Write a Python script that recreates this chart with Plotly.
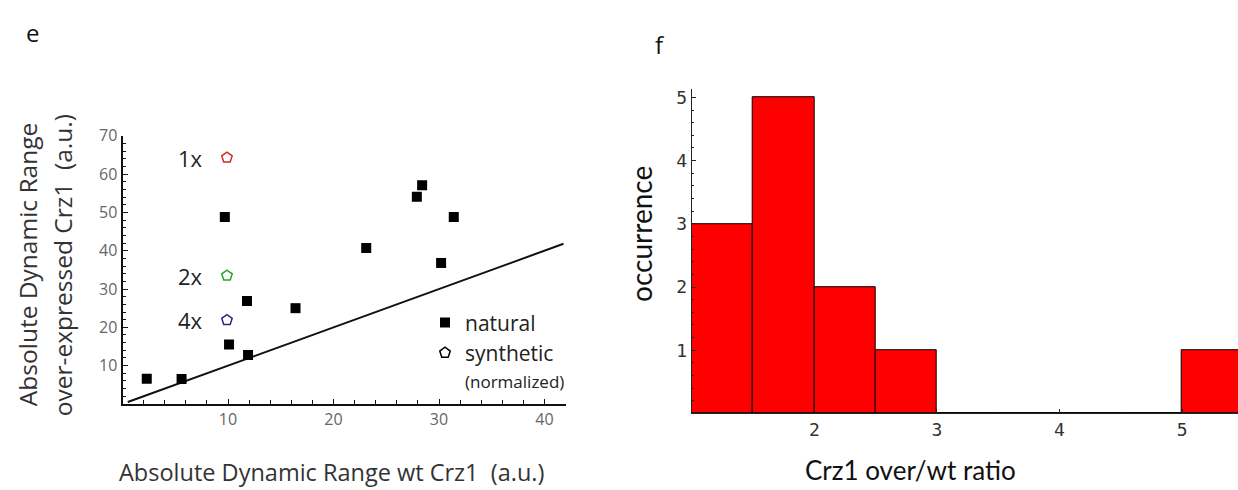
import plotly.graph_objects as go

W, H = 1238, 490

# ---- panel e data ----
nat_x = [2.3, 5.6, 9.7, 11.8, 16.4, 10.1, 11.9, 23.1, 27.9, 28.4, 31.4, 30.2]
nat_y = [6.6, 6.5, 48.8, 26.9, 25.0, 15.5, 12.8, 40.7, 54.1, 57.1, 48.8, 36.8]
syn_labels = ["1x", "2x", "4x"]
syn_x = [9.9, 9.9, 9.9]
syn_y = [64.3, 33.5, 21.9]
syn_colors = ["#d42a2a", "#28a428", "#2a2a88"]
slope_x = [0.5, 41.8]
slope_y = [0.5, 41.8]

# ---- panel f data ----
bin_left = [1.0, 1.5, 2.0, 2.5, 3.0, 3.5, 4.0, 4.5, 5.0]
counts = [3, 5, 2, 1, 0, 0, 0, 0, 1]
bin_width = 0.5

fig = go.Figure()

fig.add_trace(go.Scatter(x=slope_x, y=slope_y, mode="lines",
                         line=dict(color="#111", width=2), showlegend=False,
                         xaxis="x", yaxis="y"))
fig.add_trace(go.Scatter(x=nat_x, y=nat_y, mode="markers", name="natural",
                         marker=dict(symbol="square", size=10, color="black"),
                         xaxis="x", yaxis="y"))
for lab, sx, sy, c in zip(syn_labels, syn_x, syn_y, syn_colors):
    fig.add_trace(go.Scatter(x=[sx], y=[sy], mode="markers", showlegend=False,
                             marker=dict(symbol="pentagon-open", size=11,
                                         color=c, line=dict(width=1.5, color=c)),
                             xaxis="x", yaxis="y"))
fig.add_trace(go.Scatter(x=[None], y=[None], mode="markers",
                         name="synthetic<br><span style='font-size:17px'>(normalized)</span>",
                         marker=dict(symbol="pentagon-open", size=11, color="black",
                                     line=dict(width=1.5, color="black")),
                         xaxis="x", yaxis="y"))

fig.add_trace(go.Bar(x=[l + bin_width / 2 for l in bin_left], y=counts, width=bin_width,
                     marker=dict(color="#ff0000", line=dict(color="black", width=1)),
                     showlegend=False, xaxis="x2", yaxis="y2"))

tickfont_e = dict(family="Open Sans", size=16, color="#666")
tickfont_f = dict(family="DejaVu Sans Mono", size=18, color="#333")

fig.update_layout(
    width=W, height=H,
    margin=dict(l=0, r=0, t=0, b=0),
    paper_bgcolor="white", plot_bgcolor="white",
    bargap=0,
    xaxis=dict(domain=[122.5 / W, (122.5 + 42 * 10.55) / W], range=[0, 42],
               showgrid=False, zeroline=False, showline=True, linecolor="#111", linewidth=2,
               tickvals=[10, 20, 30, 40], ticks="inside", ticklen=5, tickcolor="#111",
               minor=dict(dtick=2, ticks="inside", ticklen=4, tickcolor="#111"),
               tickfont=tickfont_e),
    yaxis=dict(domain=[(490 - 402) / H, (490 - 402 + 70 * 3.92) / H], range=[0, 70],
               showgrid=False, zeroline=False, showline=True, linecolor="#111", linewidth=2,
               tickvals=[10, 20, 30, 40, 50, 60, 70], ticks="inside", ticklen=5, tickcolor="#111",
               minor=dict(dtick=2, ticks="inside", ticklen=3, tickcolor="#111"),
               tickfont=tickfont_e),
    xaxis2=dict(domain=[691.7 / W, 1.0], range=[1, 5.456], anchor="y2",
                showgrid=False, zeroline=False, showline=True, linecolor="#222", linewidth=1,
                tickvals=[2, 3, 4, 5], ticks="inside", ticklen=4, tickcolor="#222",
                tickfont=tickfont_f),
    yaxis2=dict(domain=[(490 - 411.7) / H, (490 - 80) / H], range=[0, 5.13], anchor="x2",
                showgrid=False, zeroline=False, showline=True, linecolor="#222", linewidth=1,
                tickvals=[1, 2, 3, 4, 5], ticks="inside", ticklen=4, tickcolor="#222",
                minor=dict(dtick=0.2, ticks="inside", ticklen=2, tickcolor="#222"),
                tickfont=tickfont_f),
    legend=dict(x=425 / W, y=(490 - 298) / H, xanchor="left", yanchor="top",
                font=dict(family="Open Sans", size=21, color="#222"),
                bgcolor="rgba(0,0,0,0)", valign="top", tracegroupgap=2),
)

def txt(x, y, text, size, family="Open Sans", color="#222", angle=0):
    return dict(x=x / W, y=(H - y) / H, xref="paper", yref="paper", text=text,
                showarrow=False, xanchor="center", yanchor="middle", textangle=angle,
                font=dict(family=family, size=size, color=color))

ann = []
for lab, sx, sy in zip(syn_labels, syn_x, syn_y):
    ann.append(dict(x=sx, y=sy, xref="x", yref="y", text=lab, showarrow=False,
                    xanchor="right", yanchor="middle", xshift=-22,
                    font=dict(family="Open Sans", size=22, color="#222")))
ann.append(dict(x=42.4, y=45.7, xref="x", yref="y", text="slope=1", showarrow=False,
                xanchor="right", yanchor="middle", font=dict(family="Open Sans", size=22, color="#222")))
ann.append(txt(27, 260, "Absolute Dynamic Range", 24.5, color="#333", angle=-90))
ann.append(txt(62, 260, "over-expressed Crz1  (a.u.)", 24.5, color="#333", angle=-90))
ann.append(txt(331, 472, "Absolute Dynamic Range wt Crz1  (a.u.)", 23.5, color="#333"))
ann.append(txt(32, 22, "e", 24, color="#111"))
ann.append(txt(660, 34, "f", 24, color="#111"))
ann.append(txt(641, 228, "occurrence", 28, family="Lato", color="#111", angle=-90))
ann.append(txt(910, 470, "Crz1 over/wt ratio", 26, family="Lato", color="#111"))
fig.update_layout(annotations=ann)

fig.write_html("out.html")
